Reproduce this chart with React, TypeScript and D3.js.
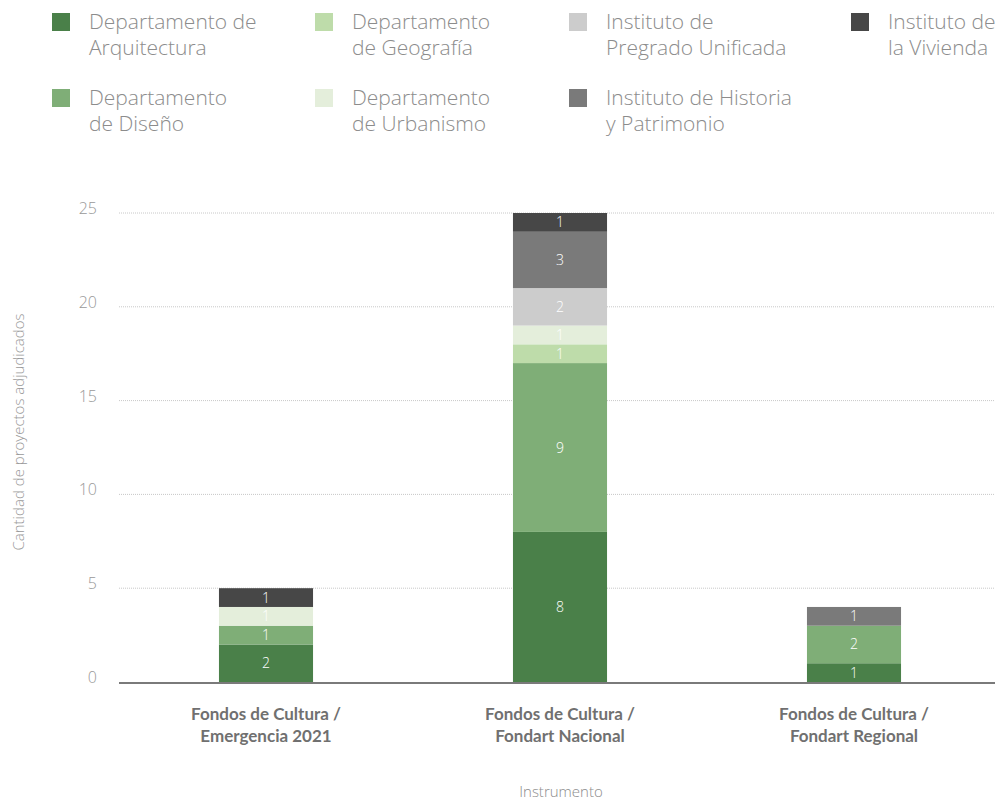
import React, { useEffect } from "react";
import * as d3 from "d3";

// categories (x axis), each label split over two lines
const categories = ["Emergencia 2021", "Fondart Nacional", "Fondart Regional"];
const categoryLines = [
  ["Fondos de Cultura /", "Emergencia 2021"],
  ["Fondos de Cultura /", "Fondart Nacional"],
  ["Fondos de Cultura /", "Fondart Regional"],
];

// series, stacked bottom to top
const seriesKeys = [
  "Arquitectura",
  "Diseno",
  "Geografia",
  "Urbanismo",
  "Pregrado",
  "Historia",
  "Vivienda",
];
const arquitectura = [2, 8, 1];
const diseno = [1, 9, 2];
const geografia = [0, 1, 0];
const urbanismo = [1, 1, 0];
const pregrado = [0, 2, 0];
const historia = [0, 3, 1];
const vivienda = [1, 1, 0];

const seriesColors = ["#4a8049", "#7fae77", "#bedcaa", "#e4eedb", "#cccccc", "#7a7a7a", "#474747"];

// legend, in the order it is laid out (column by column)
const legendOrder = ["Arquitectura", "Diseno", "Geografia", "Urbanismo", "Pregrado", "Historia", "Vivienda"];
const legendLines = {
  Arquitectura: ["Departamento de", "Arquitectura"],
  Diseno: ["Departamento", "de Diseño"],
  Geografia: ["Departamento", "de Geografía"],
  Urbanismo: ["Departamento", "de Urbanismo"],
  Pregrado: ["Instituto de", "Pregrado Unificada"],
  Historia: ["Instituto de Historia", "y Patrimonio"],
  Vivienda: ["Instituto de", "la Vivienda"],
};

const yTicks = [0, 5, 10, 15, 20, 25];

const width = 995;
const height = 800;
const margin = { top: 213, bottom: 118, left: 119, right: 0 };
const font = "'Open Sans', Lato, sans-serif";

export default function App() {
  useEffect(() => {
    document.body.style.margin = "0";
  }, []);

  const values = [arquitectura, diseno, geografia, urbanismo, pregrado, historia, vivienda];
  const table = categories.map((c, i) => {
    const row: any = { category: c };
    seriesKeys.forEach((k, j) => (row[k] = values[j][i]));
    return row;
  });
  const stacked = d3.stack().keys(seriesKeys)(table);

  const x = d3
    .scaleBand()
    .domain(categories)
    .range([margin.left, margin.left + 882])
    .paddingInner(0.68)
    .paddingOuter(0.34);

  const y = d3
    .scaleLinear()
    .domain([0, 25])
    .range([height - margin.bottom, margin.top]);

  const color = d3.scaleOrdinal<string, string>().domain(seriesKeys).range(seriesColors);

  return (
    <svg width={width} height={height} style={{ display: "block", fontFamily: font }}>
      {/* legend */}
      {legendOrder.map((k, i) => {
        const col = Math.floor(i / 2);
        const row = i % 2;
        const colX = [52, 315, 569, 851][col];
        const rowY = 13 + row * 76;
        return (
          <g key={k} transform={`translate(${colX},${rowY})`}>
            <rect width={18} height={18} fill={color(k)} />
            {legendLines[k].map((line, li) => (
              <text
                key={li}
                x={37}
                y={16 + li * 26}
                fontSize={21}
                fontWeight={300}
                fill="#8c8c8c"
              >
                {line}
              </text>
            ))}
          </g>
        );
      })}

      {/* grid lines and y ticks */}
      {yTicks.map((t) => (
        <g key={t}>
          {t > 0 && (
            <line
              x1={margin.left}
              x2={width}
              y1={y(t)}
              y2={y(t)}
              stroke="#c8c8c8"
              strokeDasharray="1,1"
            />
          )}
          <text x={97} y={y(t) + 1} textAnchor="end" fontSize={16} fill="#999999" fontWeight={300}>
            {t}
          </text>
        </g>
      ))}

      {/* bars */}
      {stacked.map((s) => (
        <g key={s.key} fill={color(s.key)}>
          {s.map((d, i) =>
            d[1] - d[0] > 0 ? (
              <g key={i}>
                <rect
                  x={x(categories[i])}
                  y={y(d[1])}
                  width={x.bandwidth()}
                  height={y(d[0]) - y(d[1])}
                />
                <text
                  x={(x(categories[i]) as number) + x.bandwidth() / 2}
                  y={(y(d[0]) + y(d[1])) / 2 + 5}
                  textAnchor="middle"
                  fontSize={14}
                  fill="#ffffff"
                  fontWeight={300}
                >
                  {d[1] - d[0]}
                </text>
              </g>
            ) : null
          )}
        </g>
      ))}

      {/* baseline */}
      <line x1={margin.left} x2={width} y1={y(0) + 1} y2={y(0) + 1} stroke="#7a7a7a" strokeWidth={2} />

      {/* x labels */}
      {categories.map((c, i) => (
        <text
          key={c}
          x={(x(c) as number) + x.bandwidth() / 2}
          textAnchor="middle"
          fontSize={17}
          fontWeight={700}
          fill="#707070"
          style={{ fontFamily: "Lato, sans-serif" }}
        >
          {categoryLines[i].map((line, li) => (
            <tspan key={li} x={(x(c) as number) + x.bandwidth() / 2} y={720 + li * 22}>
              {line}
            </tspan>
          ))}
        </text>
      ))}

      {/* axis titles */}
      <text x={561} y={797} textAnchor="middle" fontSize={15} fill="#8c8c8c" fontWeight={300}>
        Instrumento
      </text>
      <text
        transform={`translate(24,${432}) rotate(-90)`}
        textAnchor="middle"
        fontSize={15}
        fill="#999999"
        fontWeight={300}
      >
        Cantidad de proyectos adjudicados
      </text>
    </svg>
  );
}
